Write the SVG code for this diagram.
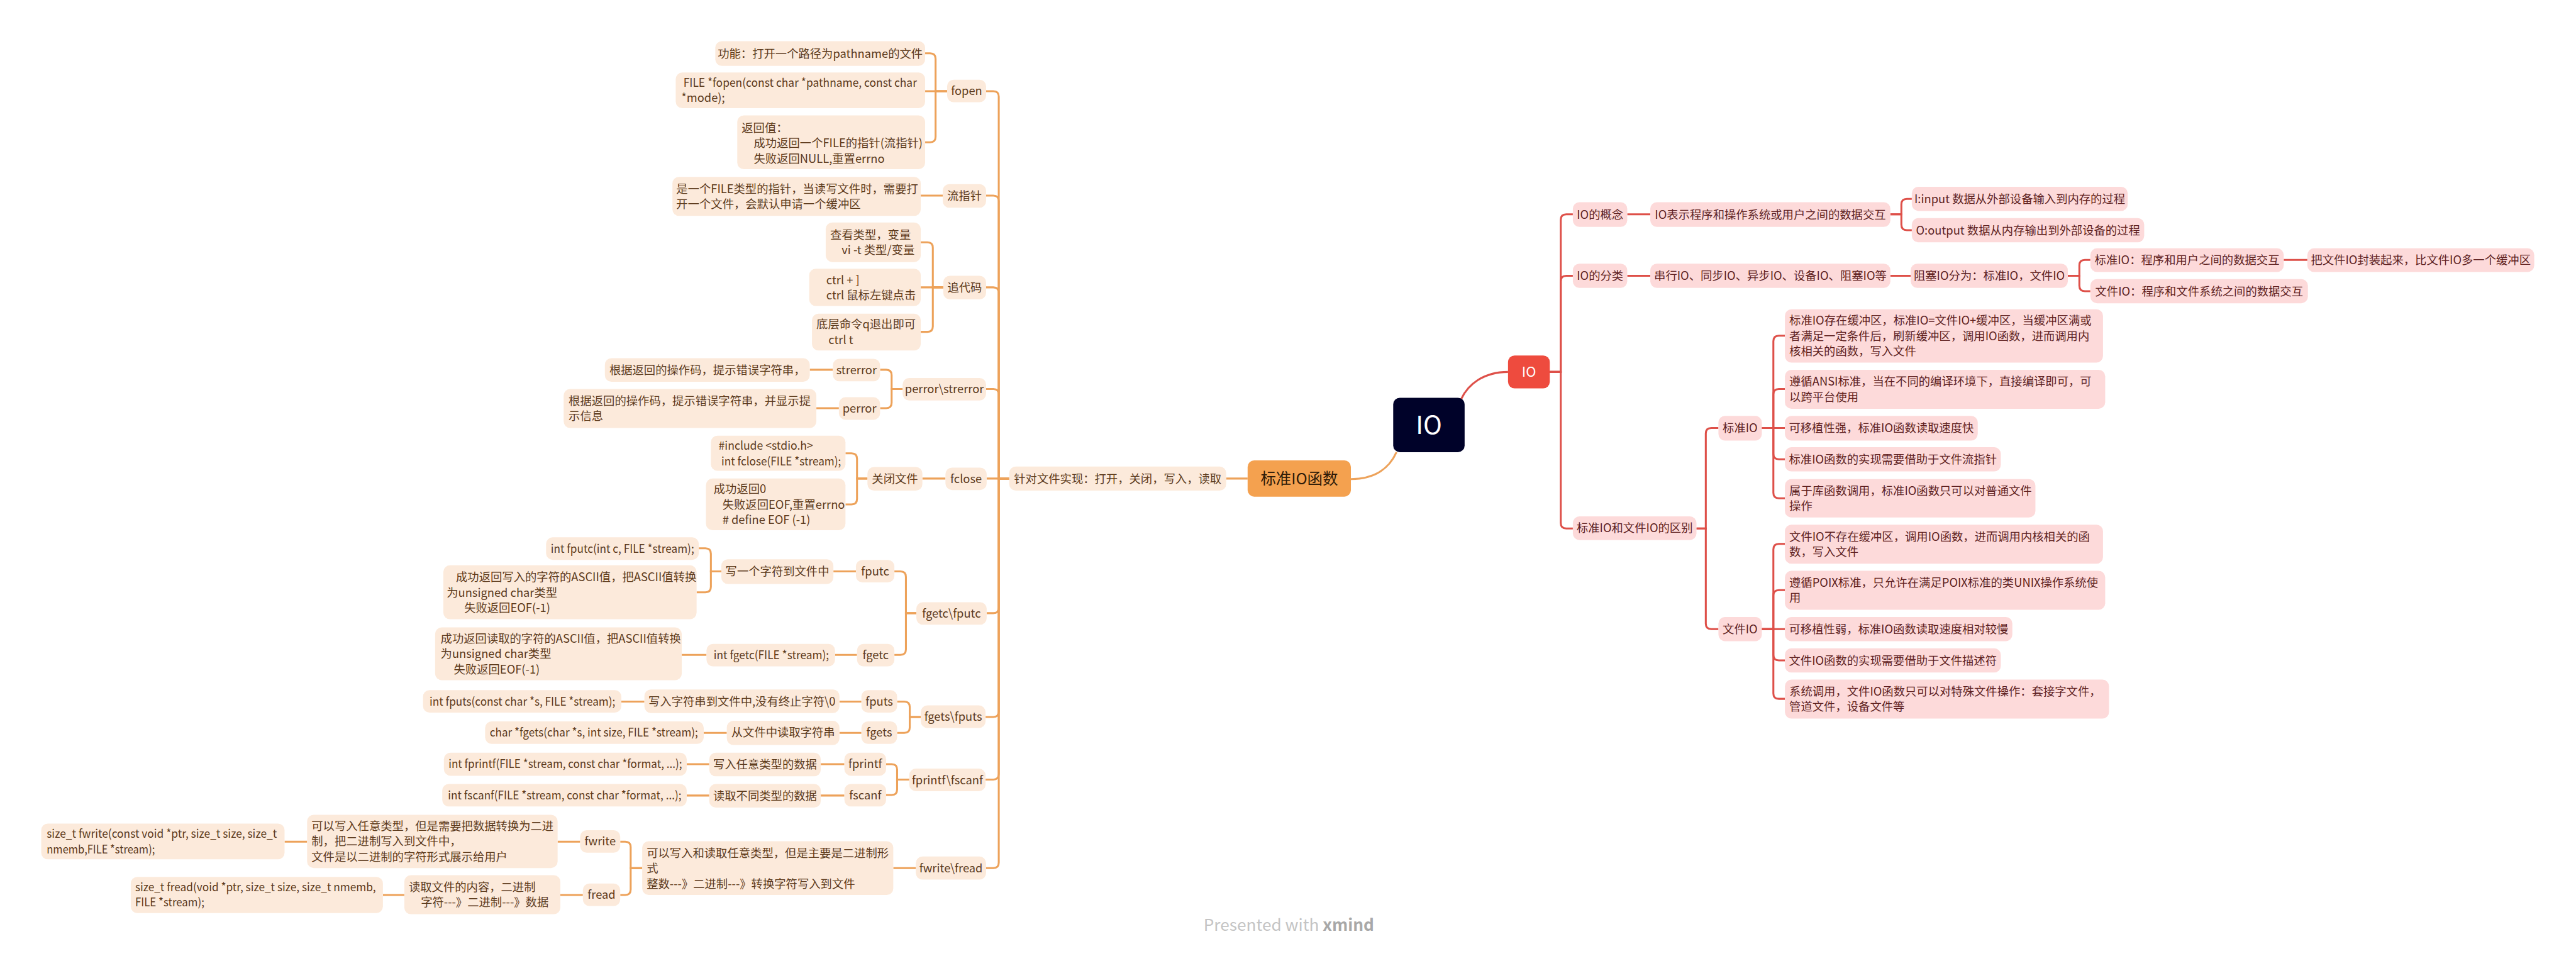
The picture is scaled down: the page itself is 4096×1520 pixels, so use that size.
<svg xmlns="http://www.w3.org/2000/svg" width="4096" height="1520" viewBox="0 0 4096 1520">
<style>
text { font-family: 'Noto Sans CJK SC', 'Noto Sans', sans-serif; font-size: 21px; }
.to { fill: #5C3A1B; }
.tp { fill: #5E1F1F; }
.c { text-anchor: middle; }
.o { fill: #FCEADB; }
.p { fill: #FDDADA; }
.oc { fill: none; stroke: #EDA25A; stroke-width: 3.5; }
.rc { fill: none; stroke: #DE5049; stroke-width: 3.5; }
</style>
<rect width="4096" height="1520" fill="#ffffff"/>
<g transform="scale(0.873534)">
<g id="connectors">
<path class="oc" d="M2459 872 C2505 872 2530 850 2542 823"/>
<path class="oc" d="M2271 871 H2232"/>
<path class="oc" d="M1837 871 H1818 V176 Q1818 166 1808 166 H1795"/>
<path class="oc" d="M1837 871 H1818 V366 Q1818 356 1808 356 H1795"/>
<path class="oc" d="M1837 871 H1818 V533 Q1818 523 1808 523 H1795"/>
<path class="oc" d="M1837 871 H1818 V718 Q1818 708 1808 708 H1795"/>
<path class="oc" d="M1837 871 H1796"/>
<path class="oc" d="M1837 871 H1818 V1106 Q1818 1116 1808 1116 H1796"/>
<path class="oc" d="M1837 871 H1818 V1295 Q1818 1305 1808 1305 H1794"/>
<path class="oc" d="M1837 871 H1818 V1409 Q1818 1419 1808 1419 H1794"/>
<path class="oc" d="M1837 871 H1818 V1570 Q1818 1580 1808 1580 H1795"/>
<path class="oc" d="M1724 166 H1703 V107 Q1703 97 1693 97 H1684"/>
<path class="oc" d="M1724 166 H1684"/>
<path class="oc" d="M1724 166 H1703 V249 Q1703 259 1693 259 H1684"/>
<path class="oc" d="M1716 356 H1676"/>
<path class="oc" d="M1717 523 H1698 V451 Q1698 441 1688 441 H1676"/>
<path class="oc" d="M1717 523 H1676"/>
<path class="oc" d="M1717 523 H1698 V594 Q1698 604 1688 604 H1676"/>
<path class="oc" d="M1643 708 H1623 V683 Q1623 673 1613 673 H1602"/>
<path class="oc" d="M1643 708 H1623 V733 Q1623 743 1613 743 H1602"/>
<path class="oc" d="M1516 673 H1474"/>
<path class="oc" d="M1527 743 H1486"/>
<path class="oc" d="M1721 871 H1679"/>
<path class="oc" d="M1579 871 H1560 V835 Q1560 825 1550 825 H1539"/>
<path class="oc" d="M1579 871 H1560 V908 Q1560 918 1550 918 H1539"/>
<path class="oc" d="M1668 1116 H1649 V1050 Q1649 1040 1639 1040 H1628"/>
<path class="oc" d="M1668 1116 H1649 V1182 Q1649 1192 1639 1192 H1628"/>
<path class="oc" d="M1558 1040 H1517"/>
<path class="oc" d="M1313 1040 H1294 V1008 Q1294 998 1284 998 H1272"/>
<path class="oc" d="M1313 1040 H1294 V1068 Q1294 1078 1284 1078 H1268"/>
<path class="oc" d="M1560 1192 H1520"/>
<path class="oc" d="M1286 1192 H1241"/>
<path class="oc" d="M1676 1305 H1656 V1287 Q1656 1277 1646 1277 H1633"/>
<path class="oc" d="M1676 1305 H1656 V1324 Q1656 1334 1646 1334 H1633"/>
<path class="oc" d="M1568 1277 H1528"/>
<path class="oc" d="M1173 1277 H1131"/>
<path class="oc" d="M1568 1334 H1528"/>
<path class="oc" d="M1323 1334 H1281"/>
<path class="oc" d="M1655 1419 H1633 V1401 Q1633 1391 1623 1391 H1613"/>
<path class="oc" d="M1655 1419 H1633 V1437 Q1633 1447 1623 1447 H1613"/>
<path class="oc" d="M1537 1391 H1494"/>
<path class="oc" d="M1291 1391 H1250"/>
<path class="oc" d="M1537 1448 H1494"/>
<path class="oc" d="M1291 1448 H1250"/>
<path class="oc" d="M1667 1580 H1626"/>
<path class="oc" d="M1169 1580 H1148 V1542 Q1148 1532 1138 1532 H1129"/>
<path class="oc" d="M1169 1580 H1148 V1619 Q1148 1629 1138 1629 H1129"/>
<path class="oc" d="M1056 1532 H1015"/>
<path class="oc" d="M559 1532 H518"/>
<path class="oc" d="M1061 1629 H1020"/>
<path class="oc" d="M736 1629 H697"/>
<path class="rc" d="M2660 726 C2672 700 2700 677 2745 677"/>
<path class="rc" d="M2821 677 H2841 V400 Q2841 390 2851 390 H2863"/>
<path class="rc" d="M2821 677 H2841 V512 Q2841 502 2851 502 H2863"/>
<path class="rc" d="M2821 677 H2841 V952 Q2841 962 2851 962 H2863"/>
<path class="rc" d="M2962 390 H3004"/>
<path class="rc" d="M3441 390 H3461 V372 Q3461 362 3471 362 H3480"/>
<path class="rc" d="M3441 390 H3461 V409 Q3461 419 3471 419 H3480"/>
<path class="rc" d="M2962 502 H3004"/>
<path class="rc" d="M3441 502 H3478"/>
<path class="rc" d="M3764 502 H3785 V483 Q3785 473 3795 473 H3805"/>
<path class="rc" d="M3764 502 H3785 V520 Q3785 530 3795 530 H3805"/>
<path class="rc" d="M4157 473 H4200"/>
<path class="rc" d="M3088 962 H3105 V789 Q3105 779 3115 779 H3128"/>
<path class="rc" d="M3088 962 H3105 V1135 Q3105 1145 3115 1145 H3128"/>
<path class="rc" d="M3207 779 H3228 V621 Q3228 611 3238 611 H3249"/>
<path class="rc" d="M3207 779 H3228 V718 Q3228 708 3238 708 H3249"/>
<path class="rc" d="M3207 779 H3249"/>
<path class="rc" d="M3207 779 H3228 V826 Q3228 836 3238 836 H3249"/>
<path class="rc" d="M3207 779 H3228 V897 Q3228 907 3238 907 H3249"/>
<path class="rc" d="M3207 1145 H3228 V1000 Q3228 990 3238 990 H3249"/>
<path class="rc" d="M3207 1145 H3228 V1084 Q3228 1074 3238 1074 H3249"/>
<path class="rc" d="M3207 1145 H3249"/>
<path class="rc" d="M3207 1145 H3228 V1192 Q3228 1202 3238 1202 H3249"/>
<path class="rc" d="M3207 1145 H3228 V1262 Q3228 1272 3238 1272 H3249"/>
</g>

<g id="root"><rect x="2536" y="724" width="130" height="99" rx="12" fill="#000229"/><text x="2601" y="790" class="c" style="font-size:46px" fill="#ffffff">IO</text></g>
<g id="n-std-func"><rect x="2271" y="838" width="188" height="66" rx="12" fill="#F4A14F"/><text x="2365" y="881" class="c" style="font-size:28px" fill="#2d1a08">标准IO函数</text></g>
<g id="n-target"><rect class="o" x="1837" y="849" width="395" height="44" rx="12"/><text class="to c" x="2034.5" y="879">针对文件实现：打开，关闭，写入，读取</text></g>

<g id="n-fopen"><rect class="o" x="1724" y="145" width="71" height="41" rx="12"/><text class="to c" x="1759.5" y="173">fopen</text></g>
<g id="n-fopen-1"><rect class="o" x="1302" y="75" width="382" height="45" rx="12"/><text class="to c" x="1493" y="105">功能：打开一个路径为pathname的文件</text></g>
<g id="n-fopen-2"><rect class="o" x="1230" y="132" width="454" height="65" rx="12"/><text class="to"><tspan x="1244" y="158" textLength="425" lengthAdjust="spacingAndGlyphs">FILE *fopen(const char *pathname, const char</tspan><tspan x="1240" y="186">*mode);</tspan></text></g>
<g id="n-fopen-3"><rect class="o" x="1342" y="210" width="342" height="98" rx="12"/><text class="to"><tspan x="1350" y="240">返回值：</tspan><tspan x="1372" y="268">成功返回一个FILE的指针(流指针)</tspan><tspan x="1372" y="296">失败返回NULL,重置errno</tspan></text></g>

<g id="n-stream"><rect class="o" x="1716" y="335" width="79" height="43" rx="12"/><text class="to c" x="1755.5" y="364">流指针</text></g>
<g id="n-stream-1"><rect class="o" x="1224" y="322" width="452" height="71" rx="12"/><text class="to"><tspan x="1231" y="351">是一个FILE类型的指针，当读写文件时，需要打</tspan><tspan x="1231" y="379">开一个文件，会默认申请一个缓冲区</tspan></text></g>

<g id="n-trace"><rect class="o" x="1717" y="502" width="78" height="43" rx="12"/><text class="to c" x="1756" y="531">追代码</text></g>
<g id="n-trace-1"><rect class="o" x="1503" y="405" width="173" height="72" rx="12"/><text class="to"><tspan x="1511" y="435">查看类型，变量</tspan><tspan x="1532" y="463">vi -t 类型/变量</tspan></text></g>
<g id="n-trace-2"><rect class="o" x="1473" y="489" width="203" height="68" rx="12"/><text class="to"><tspan x="1504" y="517">ctrl + ]</tspan><tspan x="1504" y="545">ctrl 鼠标左键点击</tspan></text></g>
<g id="n-trace-3"><rect class="o" x="1478" y="571" width="198" height="67" rx="12"/><text class="to"><tspan x="1486" y="598">底层命令q退出即可</tspan><tspan x="1508" y="626">ctrl t</tspan></text></g>

<g id="n-perror-strerror"><rect class="o" x="1643" y="688" width="152" height="41" rx="12"/><text class="to c" x="1719" y="716">perror\strerror</text></g>
<g id="n-strerror"><rect class="o" x="1516" y="653" width="86" height="41" rx="12"/><text class="to c" x="1559" y="681">strerror</text></g>
<g id="n-strerror-1"><rect class="o" x="1101" y="652" width="373" height="43" rx="12"/><text class="to c" x="1287.5" y="681">根据返回的操作码，提示错误字符串，</text></g>
<g id="n-perror"><rect class="o" x="1527" y="723" width="75" height="41" rx="12"/><text class="to c" x="1564.5" y="751">perror</text></g>
<g id="n-perror-1"><rect class="o" x="1026" y="708" width="460" height="71" rx="12"/><text class="to"><tspan x="1035" y="737">根据返回的操作码，提示错误字符串，并显示提</tspan><tspan x="1035" y="765">示信息</tspan></text></g>

<g id="n-fclose"><rect class="o" x="1721" y="851" width="75" height="41" rx="12"/><text class="to c" x="1758.5" y="879">fclose</text></g>
<g id="n-close"><rect class="o" x="1579" y="850" width="100" height="43" rx="12"/><text class="to c" x="1629" y="879">关闭文件</text></g>
<g id="n-close-1"><rect class="o" x="1294" y="793" width="245" height="64" rx="12"/><text class="to"><tspan x="1308" y="819" textLength="172" lengthAdjust="spacingAndGlyphs">#include &lt;stdio.h&gt;</tspan><tspan x="1313" y="847" textLength="218" lengthAdjust="spacingAndGlyphs">int fclose(FILE *stream);</tspan></text></g>
<g id="n-close-2"><rect class="o" x="1285" y="871" width="254" height="94" rx="12"/><text class="to"><tspan x="1299" y="898">成功返回0</tspan><tspan x="1315" y="926">失败返回EOF,重置errno</tspan><tspan x="1315" y="954"># define EOF (-1)</tspan></text></g>

<g id="n-fgetc-fputc"><rect class="o" x="1668" y="1096" width="128" height="41" rx="12"/><text class="to c" x="1732" y="1124">fgetc\fputc</text></g>
<g id="n-fputc"><rect class="o" x="1558" y="1019" width="70" height="41" rx="12"/><text class="to c" x="1593" y="1047">fputc</text></g>
<g id="n-fputc-desc"><rect class="o" x="1313" y="1018" width="204" height="45" rx="12"/><text class="to c" x="1415" y="1048">写一个字符到文件中</text></g>
<g id="n-fputc-1"><rect class="o" x="994" y="978" width="278" height="41" rx="12"/><text class="to c" x="1133" y="1006" textLength="261" lengthAdjust="spacingAndGlyphs">int fputc(int c, FILE *stream);</text></g>
<g id="n-fputc-2"><rect class="o" x="807" y="1029" width="461" height="98" rx="12"/><text class="to"><tspan x="830" y="1058">成功返回写入的字符的ASCII值，把ASCII值转换</tspan><tspan x="813" y="1086">为unsigned char类型</tspan><tspan x="845" y="1114">失败返回EOF(-1)</tspan></text></g>
<g id="n-fgetc"><rect class="o" x="1560" y="1172" width="68" height="41" rx="12"/><text class="to c" x="1594" y="1200">fgetc</text></g>
<g id="n-fgetc-1"><rect class="o" x="1286" y="1172" width="234" height="41" rx="12"/><text class="to c" x="1404" y="1200" textLength="210" lengthAdjust="spacingAndGlyphs">int fgetc(FILE *stream);</text></g>
<g id="n-fgetc-2"><rect class="o" x="792" y="1142" width="449" height="96" rx="12"/><text class="to"><tspan x="802" y="1170">成功返回读取的字符的ASCII值，把ASCII值转换</tspan><tspan x="802" y="1198">为unsigned char类型</tspan><tspan x="826" y="1226">失败返回EOF(-1)</tspan></text></g>

<g id="n-fgets-fputs"><rect class="o" x="1676" y="1284" width="118" height="41" rx="12"/><text class="to c" x="1735" y="1312">fgets\fputs</text></g>
<g id="n-fputs"><rect class="o" x="1568" y="1256" width="65" height="41" rx="12"/><text class="to c" x="1600.5" y="1284">fputs</text></g>
<g id="n-fputs-desc"><rect class="o" x="1173" y="1255" width="355" height="43" rx="12"/><text class="to c" x="1350.5" y="1284">写入字符串到文件中,没有终止字符\0</text></g>
<g id="n-fputs-1"><rect class="o" x="770" y="1256" width="361" height="41" rx="12"/><text class="to c" x="951" y="1284" textLength="338" lengthAdjust="spacingAndGlyphs">int fputs(const char *s, FILE *stream);</text></g>
<g id="n-fgets"><rect class="o" x="1568" y="1313" width="65" height="41" rx="12"/><text class="to c" x="1600.5" y="1341">fgets</text></g>
<g id="n-fgets-desc"><rect class="o" x="1323" y="1312" width="205" height="44" rx="12"/><text class="to c" x="1425.5" y="1341">从文件中读取字符串</text></g>
<g id="n-fgets-1"><rect class="o" x="883" y="1313" width="398" height="41" rx="12"/><text class="to c" x="1081" y="1341" textLength="379" lengthAdjust="spacingAndGlyphs">char *fgets(char *s, int size, FILE *stream);</text></g>

<g id="n-fprintf-fscanf"><rect class="o" x="1655" y="1399" width="139" height="41" rx="12"/><text class="to c" x="1724.5" y="1427">fprintf\fscanf</text></g>
<g id="n-fprintf"><rect class="o" x="1537" y="1370" width="76" height="42" rx="12"/><text class="to c" x="1575" y="1398">fprintf</text></g>
<g id="n-fprintf-desc"><rect class="o" x="1291" y="1370" width="203" height="43" rx="12"/><text class="to c" x="1392.5" y="1399">写入任意类型的数据</text></g>
<g id="n-fprintf-1"><rect class="o" x="808" y="1370" width="442" height="42" rx="12"/><text class="to c" x="1029" y="1398" textLength="425" lengthAdjust="spacingAndGlyphs">int fprintf(FILE *stream, const char *format, ...);</text></g>
<g id="n-fscanf"><rect class="o" x="1537" y="1427" width="76" height="41" rx="12"/><text class="to c" x="1575" y="1455">fscanf</text></g>
<g id="n-fscanf-desc"><rect class="o" x="1291" y="1427" width="203" height="43" rx="12"/><text class="to c" x="1392.5" y="1456">读取不同类型的数据</text></g>
<g id="n-fscanf-1"><rect class="o" x="805" y="1427" width="445" height="41" rx="12"/><text class="to c" x="1028" y="1455" textLength="425" lengthAdjust="spacingAndGlyphs">int fscanf(FILE *stream, const char *format, ...);</text></g>

<g id="n-fwrite-fread"><rect class="o" x="1667" y="1559" width="128" height="42" rx="12"/><text class="to c" x="1731" y="1588">fwrite\fread</text></g>
<g id="n-fwfr-desc"><rect class="o" x="1169" y="1531" width="457" height="98" rx="12"/><text class="to"><tspan x="1177" y="1560">可以写入和读取任意类型，但是主要是二进制形</tspan><tspan x="1177" y="1588">式</tspan><tspan x="1177" y="1616">整数---》二进制---》转换字符写入到文件</tspan></text></g>
<g id="n-fwrite"><rect class="o" x="1056" y="1511" width="73" height="41" rx="12"/><text class="to c" x="1092.5" y="1539">fwrite</text></g>
<g id="n-fwrite-desc"><rect class="o" x="559" y="1483" width="456" height="97" rx="12"/><text class="to"><tspan x="567" y="1511">可以写入任意类型，但是需要把数据转换为二进</tspan><tspan x="567" y="1539">制，把二进制写入到文件中，</tspan><tspan x="567" y="1567">文件是以二进制的字符形式展示给用户</tspan></text></g>
<g id="n-fwrite-1"><rect class="o" x="75" y="1499" width="443" height="65" rx="12"/><text class="to"><tspan x="85" y="1525" textLength="419" lengthAdjust="spacingAndGlyphs">size_t fwrite(const void *ptr, size_t size, size_t</tspan><tspan x="85" y="1553" textLength="197" lengthAdjust="spacingAndGlyphs">nmemb,FILE *stream);</tspan></text></g>
<g id="n-fread"><rect class="o" x="1061" y="1608" width="68" height="41" rx="12"/><text class="to c" x="1095" y="1636">fread</text></g>
<g id="n-fread-desc"><rect class="o" x="736" y="1593" width="284" height="71" rx="12"/><text class="to"><tspan x="744" y="1622">读取文件的内容，二进制</tspan><tspan x="766" y="1650">字符---》二进制---》数据</tspan></text></g>
<g id="n-fread-1"><rect class="o" x="238" y="1596" width="459" height="66" rx="12"/><text class="to"><tspan x="246" y="1622" textLength="438" lengthAdjust="spacingAndGlyphs">size_t fread(void *ptr, size_t size, size_t nmemb,</tspan><tspan x="246" y="1650" textLength="126" lengthAdjust="spacingAndGlyphs">FILE *stream);</tspan></text></g>

<g id="n-io-red"><rect x="2745" y="647" width="76" height="60" rx="12" fill="#EE4B3E"/><text x="2783" y="686" class="c" style="font-size:25px" fill="#ffffff">IO</text></g>
<g id="n-concept"><rect class="p" x="2863" y="368" width="99" height="45" rx="12"/><text class="tp c" x="2912.5" y="398">IO的概念</text></g>
<g id="n-concept-1"><rect class="p" x="3004" y="368" width="437" height="45" rx="12"/><text class="tp c" x="3222.5" y="398">IO表示程序和操作系统或用户之间的数据交互</text></g>
<g id="n-input"><rect class="p" x="3480" y="340" width="393" height="44" rx="12"/><text class="tp c" x="3676.5" y="369.5">I:input 数据从外部设备输入到内存的过程</text></g>
<g id="n-output"><rect class="p" x="3480" y="397" width="423" height="44" rx="12"/><text class="tp c" x="3691.5" y="426.5">O:output 数据从内存输出到外部设备的过程</text></g>
<g id="n-class"><rect class="p" x="2863" y="480" width="99" height="44" rx="12"/><text class="tp c" x="2912.5" y="509.5">IO的分类</text></g>
<g id="n-class-1"><rect class="p" x="3004" y="480" width="437" height="44" rx="12"/><text class="tp c" x="3222.5" y="509.5">串行IO、同步IO、异步IO、设备IO、阻塞IO等</text></g>
<g id="n-block"><rect class="p" x="3478" y="480" width="286" height="44" rx="12"/><text class="tp c" x="3621" y="509.5">阻塞IO分为：标准IO，文件IO</text></g>
<g id="n-block-std"><rect class="p" x="3805" y="452" width="352" height="43" rx="12"/><text class="tp c" x="3981" y="481">标准IO：程序和用户之间的数据交互</text></g>
<g id="n-block-std-1"><rect class="p" x="4200" y="452" width="413" height="43" rx="12"/><text class="tp c" x="4406.5" y="481">把文件IO封装起来，比文件IO多一个缓冲区</text></g>
<g id="n-block-file"><rect class="p" x="3805" y="508" width="396" height="44" rx="12"/><text class="tp c" x="4003" y="537.5">文件IO：程序和文件系统之间的数据交互</text></g>
<g id="n-diff"><rect class="p" x="2863" y="940" width="225" height="43" rx="12"/><text class="tp c" x="2975.5" y="969">标准IO和文件IO的区别</text></g>
<g id="n-std"><rect class="p" x="3128" y="757" width="79" height="45" rx="12"/><text class="tp c" x="3167.5" y="787">标准IO</text></g>
<g id="n-std-1"><rect class="p" x="3249" y="563" width="579" height="97" rx="12"/><text class="tp"><tspan x="3257" y="591">标准IO存在缓冲区，标准IO=文件IO+缓冲区，当缓冲区满或</tspan><tspan x="3257" y="619">者满足一定条件后，刷新缓冲区，调用IO函数，进而调用内</tspan><tspan x="3257" y="647">核相关的函数，写入文件</tspan></text></g>
<g id="n-std-2"><rect class="p" x="3249" y="673" width="583" height="71" rx="12"/><text class="tp"><tspan x="3257" y="702">遵循ANSI标准，当在不同的编译环境下，直接编译即可，可</tspan><tspan x="3257" y="730">以跨平台使用</tspan></text></g>
<g id="n-std-3"><rect class="p" x="3249" y="757" width="351" height="45" rx="12"/><text class="tp c" x="3424.5" y="787">可移植性强，标准IO函数读取速度快</text></g>
<g id="n-std-4"><rect class="p" x="3249" y="814" width="393" height="44" rx="12"/><text class="tp c" x="3445.5" y="843.5">标准IO函数的实现需要借助于文件流指针</text></g>
<g id="n-std-5"><rect class="p" x="3249" y="872" width="456" height="70" rx="12"/><text class="tp"><tspan x="3257" y="900.5">属于库函数调用，标准IO函数只可以对普通文件</tspan><tspan x="3257" y="928.5">操作</tspan></text></g>
<g id="n-file"><rect class="p" x="3128" y="1123" width="79" height="44" rx="12"/><text class="tp c" x="3167.5" y="1152.5">文件IO</text></g>
<g id="n-file-1"><rect class="p" x="3249" y="955" width="579" height="71" rx="12"/><text class="tp"><tspan x="3257" y="984">文件IO不存在缓冲区，调用IO函数，进而调用内核相关的函</tspan><tspan x="3257" y="1012">数，写入文件</tspan></text></g>
<g id="n-file-2"><rect class="p" x="3249" y="1039" width="583" height="71" rx="12"/><text class="tp"><tspan x="3257" y="1068">遵循POIX标准，只允许在满足POIX标准的类UNIX操作系统使</tspan><tspan x="3257" y="1096">用</tspan></text></g>
<g id="n-file-3"><rect class="p" x="3249" y="1123" width="414" height="44" rx="12"/><text class="tp c" x="3456" y="1152.5">可移植性弱，标准IO函数读取速度相对较慢</text></g>
<g id="n-file-4"><rect class="p" x="3249" y="1180" width="393" height="44" rx="12"/><text class="tp c" x="3445.5" y="1209.5">文件IO函数的实现需要借助于文件描述符</text></g>
<g id="n-file-5"><rect class="p" x="3249" y="1237" width="590" height="71" rx="12"/><text class="tp"><tspan x="3257" y="1266">系统调用，文件IO函数只可以对特殊文件操作：套接字文件，</tspan><tspan x="3257" y="1294">管道文件，设备文件等</tspan></text></g>

<g id="footer"><text x="2346" y="1694" class="c" style="font-size:30px" fill="#c4c4c4">Presented with <tspan font-weight="bold" fill="#a8a8a8">xmind</tspan></text></g>
</g>
</svg>
